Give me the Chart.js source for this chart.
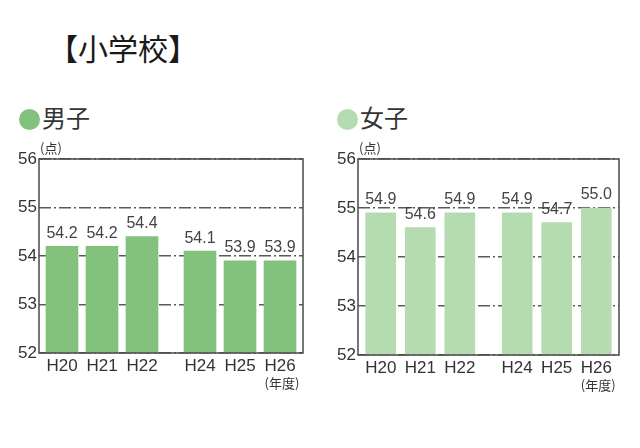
<!DOCTYPE html>
<html>
<head>
<meta charset="utf-8">
<script src="https://cdn.jsdelivr.net/npm/chart.js@4.4.1/dist/chart.umd.min.js"></script>
<style>
  body { margin: 0; background: #fff; width: 640px; height: 448px; position: relative; overflow: hidden; }
  canvas { position: absolute; top: 0; }
  .title { position: absolute; left: 0; top: 25px; width: 246px; text-align: center; font: 30px "Noto Sans CJK JP"; color: #1a1a1a; }
  .legend { position: absolute; top: 101px; font: 24px "Noto Sans CJK JP"; color: #333; line-height: 32px; }
  .legend span { display: inline-block; width: 21px; height: 21px; border-radius: 50%; vertical-align: -3px; margin-right: 2px; }
</style>
</head>
<body>
<div class="title">【小学校】</div>
<div class="legend" style="left:19px"><span style="background:#82c27c"></span>男子</div>
<div class="legend" style="left:337px"><span style="background:#b5dcb0"></span>女子</div>
<canvas id="boys" width="320" height="448" style="left:0"></canvas>
<canvas id="girls" width="320" height="448" style="left:320px"></canvas>
<script>
const categories = ['H20', 'H21', 'H22', 'H24', 'H25', 'H26'];
const boysScores = [54.2, 54.2, 54.4, 54.1, 53.9, 53.9];
const girlsScores = [54.9, 54.6, 54.9, 54.9, 54.7, 55.0];
const yTicks = [52, 53, 54, 55, 56];

// the missing year leaves a narrower gap than a whole slot
const gapAfter = 2, gapExtra = 0.45;
const xPos = categories.map((c, i) => i + (i > gapAfter ? gapExtra : 0));

const labelPlugin = {
    id: 'labels',
    afterDatasetsDraw(chart) {
        const ctx = chart.ctx;
        const meta = chart.getDatasetMeta(0);
        const area = chart.chartArea;
        ctx.save();
        ctx.fillStyle = '#444';
        ctx.font = '16px "Liberation Sans"';
        ctx.textAlign = 'center';
        ctx.textBaseline = 'bottom';
        meta.data.forEach((bar, i) => {
            ctx.fillText(chart.data.datasets[0].data[i].y.toFixed(1), bar.x, bar.y - 5);
        });
        // frame
        ctx.strokeStyle = '#4a4a4a';
        ctx.lineWidth = 1.5;
        ctx.strokeRect(area.left, area.top, area.right - area.left, area.bottom - area.top);
        // units
        ctx.fillStyle = '#333';
        ctx.font = '13px "Noto Sans CJK JP"';
        ctx.textAlign = 'left';
        ctx.textBaseline = 'middle';
        ctx.fillText('(点)', area.left + 1, area.top - 11);
        ctx.textAlign = 'center';
        const last = meta.data[meta.data.length - 1];
        ctx.fillText('(年度)', last.x + 2, area.bottom + 30);
        ctx.restore();
    }
};

function makeChart(id, scores, color, pad) {
    return new Chart(document.getElementById(id), {
        type: 'bar',
        data: {
            datasets: [{
                data: scores.map((v, i) => ({ x: xPos[i], y: v })),
                backgroundColor: color,
                barThickness: pad.bar
            }]
        },
        options: {
            responsive: false,
            animation: false,
            devicePixelRatio: 1,
            layout: { padding: { left: 0, top: 159, right: pad.right, bottom: 448 - pad.bottom - 40 } },
            plugins: { legend: { display: false }, tooltip: { enabled: false } },
            scales: {
                x: {
                    type: 'linear',
                    offset: false,
                    min: -0.575,
                    max: xPos[xPos.length - 1] + 0.575,
                    afterBuildTicks: s => { s.ticks = xPos.map(v => ({ value: v })); },
                    afterFit: s => { s.height = 40; },
                    ticks: {
                        callback: (v, i) => categories[i],
                        font: { family: 'Liberation Sans', size: 17 },
                        color: '#333',
                        padding: 3,
                        maxRotation: 0,
                        autoSkip: false
                    },
                    grid: { display: false, drawTicks: false, offset: false },
                    border: { display: false }
                },
                y: {
                    min: yTicks[0],
                    max: yTicks[yTicks.length - 1],
                    afterBuildTicks: s => { s.ticks = yTicks.map(v => ({ value: v })); },
                    afterFit: s => { s.width = pad.left; },
                    ticks: {
                        font: { family: 'Liberation Sans', size: 17 },
                        color: '#333',
                        padding: 2
                    },
                    grid: { color: '#5a5a5a', lineWidth: 1.5, drawTicks: false },
                    border: { display: false, dash: [12, 3, 2, 3] }
                }
            }
        },
        plugins: [labelPlugin]
    });
}

makeChart('boys', boysScores, '#82c27c', { left: 39, right: 17, bottom: 353, bar: 32 });
makeChart('girls', girlsScores, '#b5dcb0', { left: 38, right: 21, bottom: 355, bar: 30 });
</script>
</body>
</html>
